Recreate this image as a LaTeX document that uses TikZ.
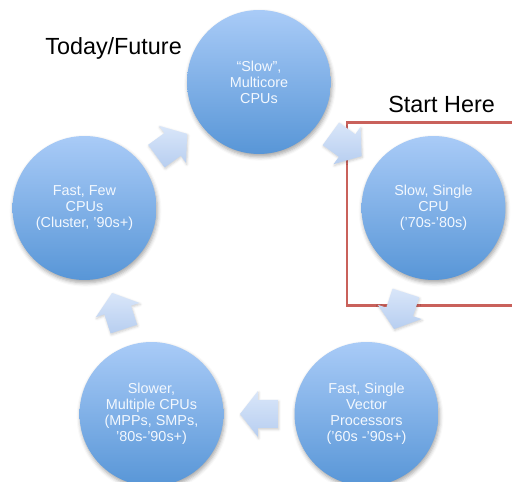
\documentclass[tikz,border=0pt]{standalone}
\usepackage{fontspec}
\setmainfont{Liberation Sans}
\usetikzlibrary{calc, shadows.blur}
\definecolor{stagetop}{HTML}{A9CBF7}
\definecolor{stagebot}{HTML}{5896D7}
\definecolor{stagetxt}{HTML}{F3F8FE}
\definecolor{flowtop}{HTML}{D9E6F9}
\definecolor{flowbot}{HTML}{B7CEF0}
\definecolor{startred}{HTML}{C9615B}
\tikzset{
  stage/.style={circle, minimum size=2.88cm, inner sep=0pt, align=center,
                top color=stagetop, bottom color=stagebot, text=stagetxt,
                font=\fontsize{8.2}{9.1}\selectfont,
                blur shadow={shadow xshift=0.6pt, shadow yshift=-1.6pt,
                             shadow blur radius=2.2pt, shadow opacity=35}},
  flow/.style={top color=flowtop, bottom color=flowbot,
               blur shadow={shadow xshift=0.4pt, shadow yshift=-0.8pt,
                            shadow blur radius=1.4pt, shadow opacity=20}},
  frame/.style={draw=startred, line width=1.7pt},
  ttl/.style={font=\fontsize{13.3}{16}\selectfont, inner sep=0pt},
}

\begin{document}
\begin{tikzpicture}[x=0.02cm, y=0.02cm]
\useasboundingbox (0,0) rectangle (512,-482);
\clip (0,0) rectangle (512,-482);

% start marker
\draw[frame] (512,-123) -- (347,-123) -- (347,-306) -- (512,-306);

% the five stages, round a pentagon
\node[stage] (multi)  at (259,-82)    {“Slow”,\\Multicore\\CPUs};
\node[stage] (single) at (433.5,-208) {Slow, Single\\CPU\\(’70s-’80s)};
\node[stage] (vector) at (366.5,-414) {Fast, Single\\Vector\\Processors\\(’60s -’90s+)};
\node[stage] (mpp)    at (151.5,-414) {Slower,\\Multiple CPUs\\(MPPs, SMPs,\\’80s-’90s+)};
\node[stage] (clust)  at (84.5,-208)  {Fast, Few\\CPUs\\(Cluster, ’90s+)};

% block arrows halfway between two stages
\newcommand{\flowarrow}[3]{% from, to, direction
  \begin{scope}[shift={($(#1)!0.5!(#2)$)}, rotate=#3]
    \path[flow] (-19,-14) -- (1,-14) -- (1,-23) -- (19,0) -- (1,23) -- (1,14) -- (-19,14) -- cycle;
  \end{scope}
}
\flowarrow{multi}{single}{-36}
\flowarrow{single}{vector}{-108}
\flowarrow{vector}{mpp}{180}
\flowarrow{mpp}{clust}{108}
\flowarrow{clust}{multi}{36}

% labels
\node[ttl, anchor=base west] (today) at (45,-55) {Today/Future};
\node[ttl, anchor=base west] (start) at (388,-113) {Start Here};

\end{tikzpicture}
\end{document}
